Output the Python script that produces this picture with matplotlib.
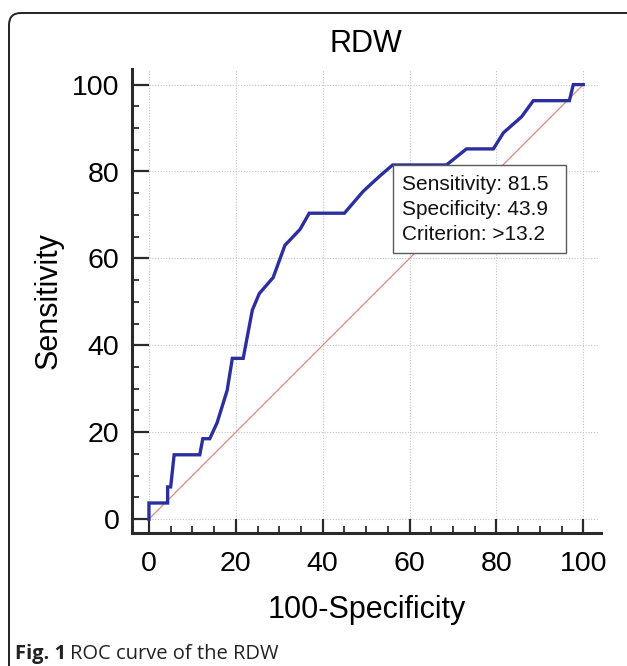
import matplotlib
matplotlib.use('Agg')
import matplotlib.pyplot as plt
from matplotlib.patches import Rectangle, FancyBboxPatch
from matplotlib.transforms import IdentityTransform

# ROC curve points (100-Specificity, Sensitivity)
fpr = [0, 0, 4.3, 4.3, 5.0, 5.8, 11.7, 12.4, 14.0, 15.7, 18.0, 19.2, 21.7,
       23.8, 25.4, 28.6, 31.3, 34.8, 36.9, 45.0, 49.3, 50.9, 53.2, 56.1,
       68.5, 73.1, 79.3, 81.6, 85.8, 88.5, 96.8, 97.7, 100]
tpr = [0, 3.7, 3.7, 7.4, 7.4, 14.8, 14.8, 18.5, 18.5, 22.2, 29.6, 37.0, 37.0,
       48.1, 51.9, 55.6, 63.0, 66.7, 70.4, 70.4, 75.4, 76.9, 79.0, 81.5,
       81.5, 85.2, 85.2, 88.9, 92.6, 96.3, 96.3, 100, 100]

sensitivity = 81.5
specificity = 43.9
criterion = '>13.2'

ticks = [0, 20, 40, 60, 80, 100]

plt.rcParams['font.family'] = ['Liberation Sans', 'DejaVu Sans']

fig = plt.figure(figsize=(6.2705, 6.6605), dpi=100)
ax = fig.add_axes([132 / 627, 133 / 666, 468.6 / 627, 464 / 666])
ax.set_xlim(-3.9, 104)
ax.set_ylim(-3.2, 103.6)

# dotted grid starting at zero
for t in ticks:
    ax.plot([0, 103.5], [t, t], ls=(0, (1, 1.5)), color='#c4c4c4', lw=0.8, zorder=1)
    ax.plot([t, t], [0, 103.6], ls=(0, (1, 1.5)), color='#c4c4c4', lw=0.8, zorder=1)

# reference diagonal
ax.plot([0, 100], [0, 100], color='#d98a84', lw=0.9, zorder=2)

# ROC curve
ax.plot(fpr, tpr, color='#2c2ea0', lw=2.4, solid_joinstyle='miter', zorder=3)

# criterion box
crit_x = 100 - specificity
ax.add_patch(Rectangle((crit_x, sensitivity - 20.2), 40, 20.2, facecolor='white',
                       edgecolor='#5a5a5a', lw=1.0, zorder=4))
ax.annotate('Sensitivity: %.1f\nSpecificity: %.1f\nCriterion: %s'
            % (sensitivity, specificity, criterion),
            xy=(crit_x, sensitivity), xytext=(6.8, -7.5), textcoords='offset points',
            ha='left', va='top', fontsize=15, color='#111111', linespacing=1.38, zorder=5)

for s in ['top', 'right']:
    ax.spines[s].set_visible(False)
for s in ['left', 'bottom']:
    ax.spines[s].set_linewidth(2.2)
    ax.spines[s].set_color('#2a2a2a')

ax.set_xticks(ticks)
ax.set_yticks(ticks)
ax.set_xticks(range(5, 100, 5), minor=True)
ax.set_yticks(range(5, 100, 5), minor=True)
ax.tick_params(axis='y', which='major', direction='in', length=12, width=1.6,
               color='#2a2a2a', labelsize=20.5, pad=9)
ax.tick_params(axis='x', which='major', direction='in', length=10, width=1.6,
               color='#2a2a2a', labelsize=20.5, pad=13)
ax.tick_params(which='minor', direction='in', length=5, width=1.3, color='#2a2a2a')

ax.set_title('RDW', fontsize=22, pad=12)
ax.set_xlabel('100-Specificity', fontsize=22)
ax.set_ylabel('Sensitivity', fontsize=22)
ax.xaxis.set_label_coords(0.5, -0.133)
ax.yaxis.set_label_coords(-0.147, 0.5)

# page frame with rounded corner (right side runs off the page)
frame = FancyBboxPatch((9, -30), 650, 683, boxstyle='round,pad=0,rounding_size=12',
                       transform=IdentityTransform(), facecolor='none',
                       edgecolor='#222222', lw=1.4)
fig.patches.append(frame)

# caption
t1 = fig.text(15 / 627, 7 / 666, 'Fig. 1', fontsize=14.5, fontweight='bold',
              family='Open Sans', color='#222222')
fig.canvas.draw()
bb = t1.get_window_extent()
fig.text((bb.x1 + 4) / 627, 7 / 666, 'ROC curve of the RDW', fontsize=14.5,
         family='Open Sans', color='#222222')

fig.savefig('out.png', dpi=100)
